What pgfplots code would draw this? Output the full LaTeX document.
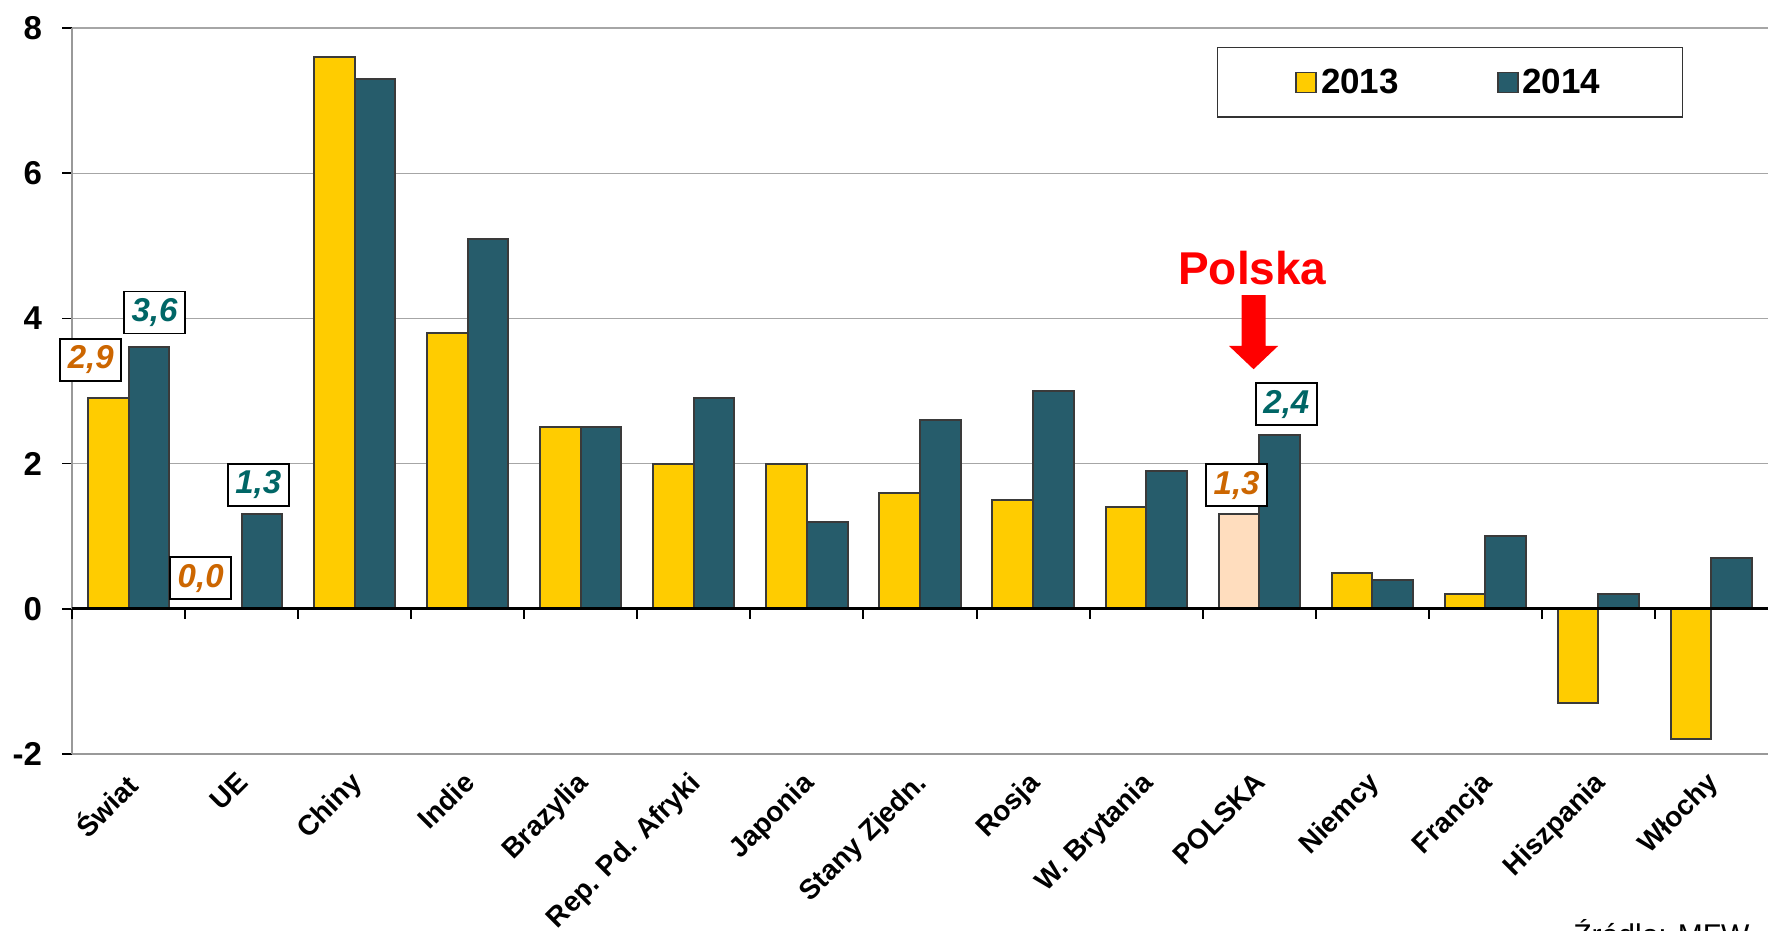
\documentclass[border=0pt]{standalone}
\usepackage{fontspec}
\setmainfont{Liberation Sans}
\usepackage{pgfplots}
\pgfplotsset{compat=1.18}

\definecolor{zolty}{HTML}{FFCC00}
\definecolor{morski}{HTML}{265C6B}
\definecolor{brzoskw}{HTML}{FFDDBE}
\definecolor{pomar}{HTML}{CC6600}
\definecolor{tealtxt}{HTML}{006666}
\definecolor{obrys}{HTML}{3A3A3A}

\pgfplotsset{
  sq legend/.style={legend image code/.code={%
    \draw[##1, draw=obrys, line width=0.8pt] (0pt,-5pt) rectangle (10pt,5pt);}},
}
\tikzset{
  lbl/.style={draw=black, line width=0.9pt, fill=white, minimum width=30.5pt,
    minimum height=21pt, inner sep=1pt, font=\fontsize{16.5}{19}\selectfont\bfseries\itshape},
}

\begin{document}
\begin{tikzpicture}
\begin{axis}[name=ax, scale only axis, width=848pt, height=363pt, clip=false,
  xmin=-0.5, xmax=14.5, ymin=-2, ymax=8,
  ytick={-2,0,...,8},
  xtick={0,...,14},
  xticklabels={Świat, UE, Chiny, Indie, Brazylia, Rep. Pd. Afryki, Japonia,
    Stany Zjedn., Rosja, W. Brytania, POLSKA, Niemcy, Francja, Hiszpania, Włochy},
  x tick style={draw=none},
  y tick style={black, line width=0.8pt},
  tick align=outside, major tick length=5pt,
  axis x line*=bottom, axis y line*=left,
  axis line style={gray!80, line width=0.6pt},
  ymajorgrids, grid style={gray!70, line width=0.6pt},
  /pgf/number format/assume math mode=true,
  yticklabel style={font=\fontsize{16.5}{19}\selectfont\bfseries, xshift=-6.5pt},
  xticklabel style={xshift=-3pt, rotate=45, anchor=north east, inner sep=2pt,
    font=\fontsize{14}{17}\selectfont\bfseries},
  ybar=0pt, bar width=20.3pt,
  legend style={at={(0.950,0.974)}, anchor=north east, legend columns=2,
    draw=black!80, line width=0.8pt, inner xsep=39pt, inner ysep=8.5pt,
    font=\fontsize{17.5}{20}\selectfont\bfseries,
    /tikz/every even column/.append style={column sep=47pt}},
]
% 2013
\addplot[sq legend, fill=zolty, draw=obrys, line width=1pt, bar shift=-10.15pt] coordinates {
  (0,2.9) (1,0.0) (2,7.6) (3,3.8) (4,2.5) (5,2.0) (6,2.0) (7,1.6) (8,1.5) (9,1.4)
  (11,0.5) (12,0.2) (13,-1.3) (14,-1.8)};
\addlegendentry{2013}
% 2014
\addplot[sq legend, fill=morski, draw=obrys, line width=1pt, bar shift=10.15pt] coordinates {
  (0,3.6) (1,1.3) (2,7.3) (3,5.1) (4,2.5) (5,2.9) (6,1.2) (7,2.6) (8,3.0) (9,1.9)
  (10,2.4) (11,0.4) (12,1.0) (13,0.2) (14,0.7)};
\addlegendentry{2014}
% POLSKA 2013 wyrozniona
\addplot[forget plot, fill=brzoskw, draw=obrys, line width=1pt, bar shift=-10.15pt]
  coordinates {(10,1.3)};

% linia zera i kreski
\draw[black, line width=1.5pt] (axis cs:-0.5,0) -- (axis cs:14.5,0);
\pgfplotsinvokeforeach{-0.5,0.5,...,13.5}{
  \draw[black, line width=1pt] (axis cs:#1,0) -- ++(0pt,-5pt);
}

% etykiety wartosci
\node[lbl, text=pomar] at (axis cs:-0.334,3.43) {2,9};
\node[lbl, text=tealtxt] at (axis cs:0.230,4.08) {3,6};
\node[lbl, text=pomar] at (axis cs:0.638,0.42) {0,0};
\node[lbl, text=tealtxt] at (axis cs:1.147,1.71) {1,3};
\node[lbl, text=pomar] at (axis cs:9.80,1.70) {1,3};
\node[lbl, text=tealtxt] at (axis cs:10.24,2.82) {2,4};

% Polska i strzalka
\node[text=red, font=\fontsize{23}{27}\selectfont\bfseries] at (axis cs:9.94,4.69) {Polska};
\fill[red] ([xshift=-6pt]axis cs:9.95,4.32) -- ([xshift=6pt]axis cs:9.95,4.32)
  -- ([xshift=6pt]axis cs:9.95,3.62) -- ([xshift=12.25pt]axis cs:9.95,3.62)
  -- (axis cs:9.95,3.30) -- ([xshift=-12.25pt]axis cs:9.95,3.62)
  -- ([xshift=-6pt]axis cs:9.95,3.62) -- cycle;
\end{axis}
\node[anchor=north west, inner sep=0pt, font=\fontsize{15}{18}\selectfont]
  at ([xshift=750.5pt, yshift=-82.5pt]ax.south west) {Źródło: MFW};
\pgfresetboundingbox
\path[use as bounding box] ([xshift=-36pt, yshift=-88pt]ax.south west)
  rectangle ([yshift=14pt]ax.north east);
\end{tikzpicture}
\end{document}
